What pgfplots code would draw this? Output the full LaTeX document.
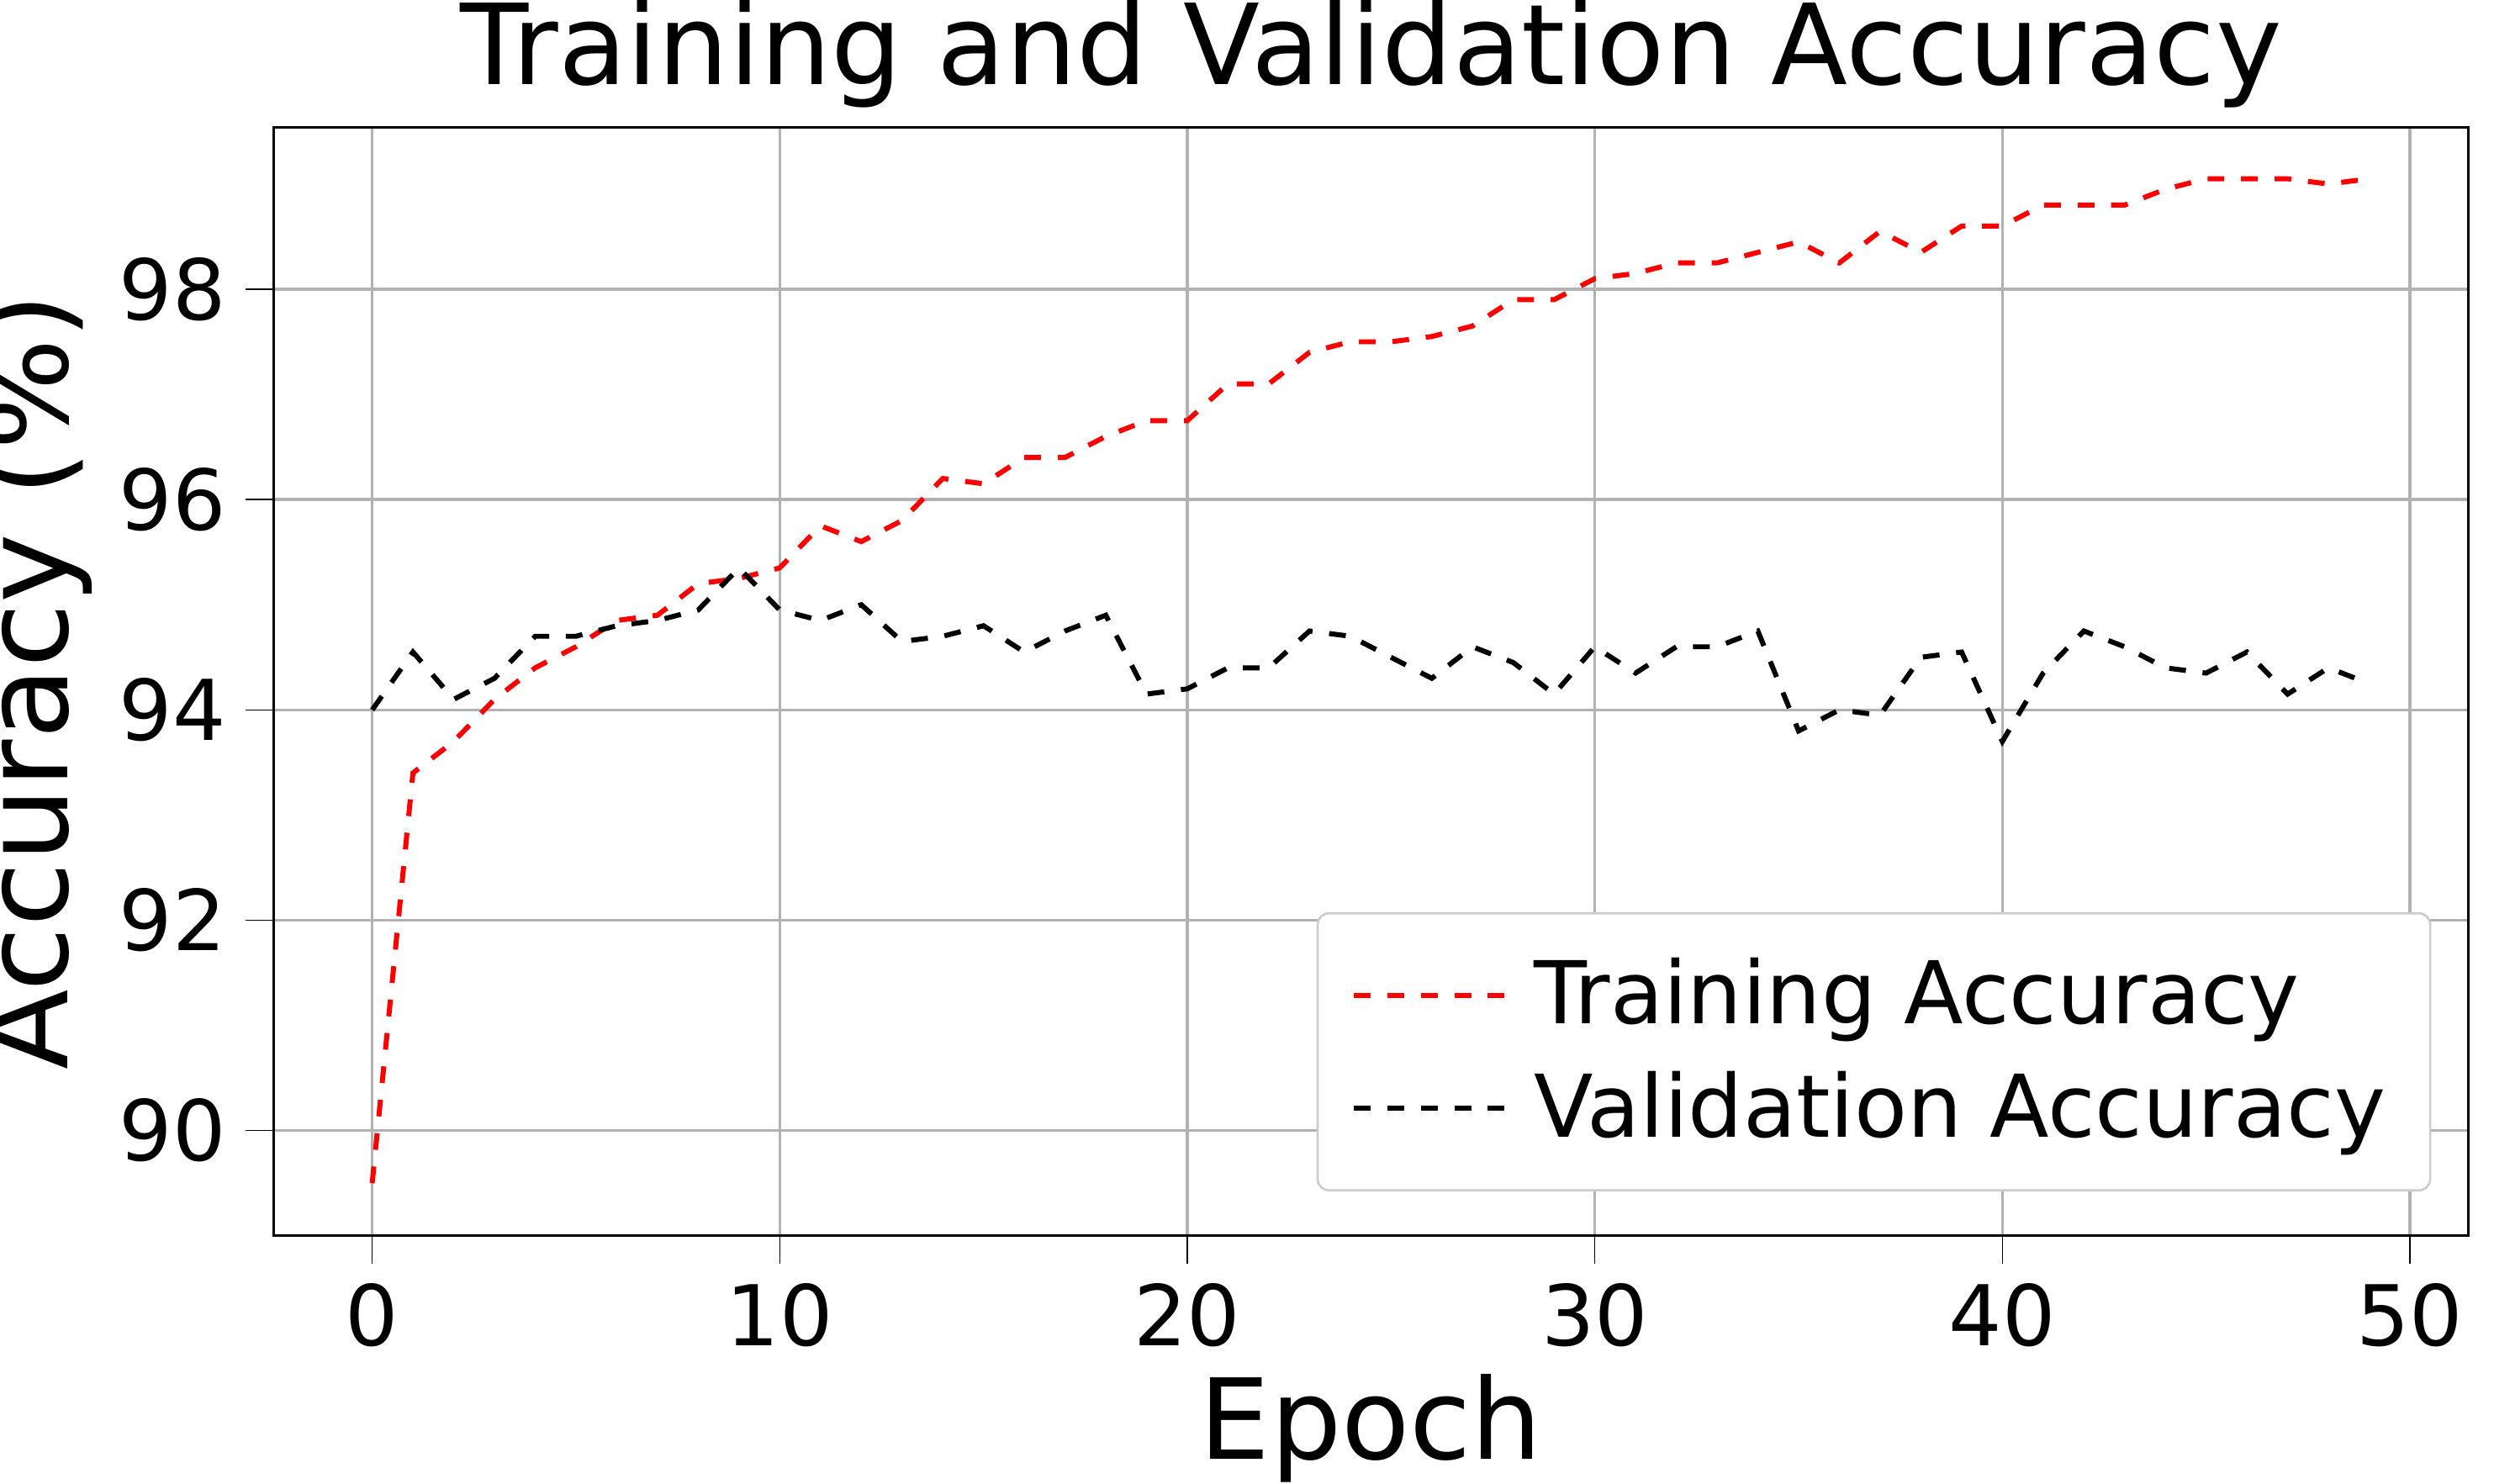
\documentclass[border=0pt]{standalone}
\usepackage{pgfplots}
\pgfplotsset{compat=1.18}
\usepackage{fontspec}
\setmainfont{DejaVu Sans}
\begin{document}
\begin{tikzpicture}
\path[use as bounding box] (-1.72cm,-1.56cm) rectangle (13.96cm,7.77cm);
\begin{axis}[at={(0,0)},anchor=south west,scale only axis,width=13.8cm,height=6.97cm,
 xmin=-2.42,xmax=51.44,ymin=89.0,ymax=99.54,
 xtick={0,10,20,30,40,50},ytick={90,92,94,96,98},
 grid=major,grid style={gray!60,line width=0.5pt},
 tick align=outside,tick pos=left,major tick length=5pt,
 /pgf/number format/assume math mode=true,
 tick label style={font=\fontsize{15}{17}\selectfont},
 xlabel={Epoch},ylabel={Accuracy (\%)},
 xlabel style={font=\fontsize{20}{24}\selectfont,yshift=2pt},
 ylabel style={font=\fontsize{21}{24}\selectfont,yshift=-2pt},
 title={Training and Validation Accuracy},
 title style={font=\fontsize{20}{24}\selectfont,yshift=-6pt},
 legend style={at={(0.983,0.04)},anchor=south east,font=\fontsize{15.5}{18}\selectfont,draw=gray!40,rounded corners=2pt,row sep=3pt,inner sep=6pt},
 legend cell align=left,
 legend image code/.code={\draw[#1] (0cm,0cm) -- (1.05cm,0cm);},
 tick style={black},
]
\addplot[red,dashed,line width=0.9pt] coordinates {
(0,89.5)(1,93.4)(2,93.7)(3,94.1)(4,94.4)(5,94.6)(6,94.85)(7,94.9)(8,95.2)(9,95.25)
(10,95.35)(11,95.75)(12,95.6)(13,95.8)(14,96.2)(15,96.15)(16,96.4)(17,96.4)(18,96.6)(19,96.75)
(20,96.75)(21,97.1)(22,97.1)(23,97.4)(24,97.5)(25,97.5)(26,97.55)(27,97.65)(28,97.9)(29,97.9)
(30,98.1)(31,98.15)(32,98.25)(33,98.25)(34,98.35)(35,98.45)(36,98.25)(37,98.55)(38,98.35)(39,98.6)
(40,98.6)(41,98.8)(42,98.8)(43,98.8)(44,98.95)(45,99.05)(46,99.05)(47,99.05)(48,99.0)(49,99.05)};
\addlegendentry{Training Accuracy}
\addplot[black,dashed,line width=0.9pt] coordinates {
(0,94.0)(1,94.55)(2,94.1)(3,94.3)(4,94.7)(5,94.7)(6,94.8)(7,94.85)(8,94.95)(9,95.35)
(10,94.95)(11,94.85)(12,95.0)(13,94.65)(14,94.7)(15,94.8)(16,94.55)(17,94.75)(18,94.9)(19,94.15)
(20,94.2)(21,94.4)(22,94.4)(23,94.75)(24,94.7)(25,94.5)(26,94.3)(27,94.6)(28,94.45)(29,94.15)
(30,94.6)(31,94.35)(32,94.6)(33,94.6)(34,94.75)(35,93.8)(36,94.0)(37,93.95)(38,94.5)(39,94.55)
(40,93.7)(41,94.35)(42,94.75)(43,94.6)(44,94.4)(45,94.35)(46,94.55)(47,94.15)(48,94.4)(49,94.25)};
\addlegendentry{Validation Accuracy}
\end{axis}
\end{tikzpicture}
\end{document}
